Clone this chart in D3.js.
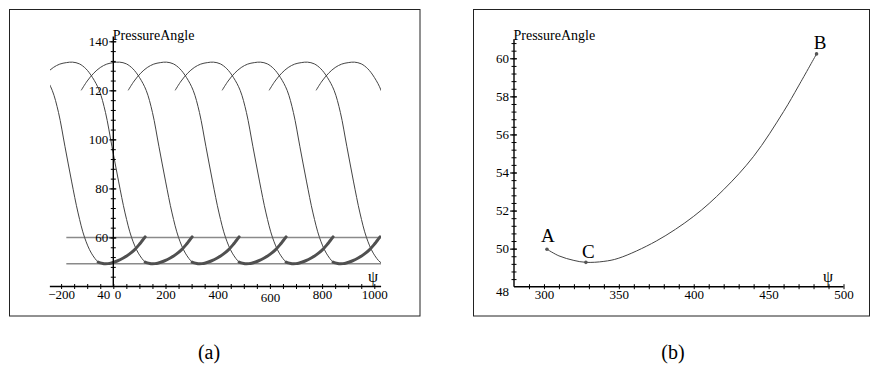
<!DOCTYPE html>
<html><head><meta charset="utf-8">
<script src="https://cdn.jsdelivr.net/npm/d3@7"></script>
<style>
body{margin:0;background:#fff}
svg{display:block}
svg text{font-family:"Liberation Serif","Times New Roman",serif !important;fill:#000}
</style>
</head><body>
<svg id="chart" width="875" height="366"></svg>
<script>
// One cycle of the pressure-angle curve, ψ measured within the cycle (up to point A)
const cyclePsi   = [-123, -100, -75, -50, -25, 0, 24, 50, 75, 100, 126, 150, 175, 200, 225, 250, 276];
const cycleAngle = [120, 123.8, 127, 129.3, 130.7, 131.3, 131.5, 130.8, 128.8, 125.3, 120, 111, 97, 83, 70, 60, 53.6];
// Working stretch A → C → B
const workPsi   = [302, 310, 320, 328, 340, 350, 375, 400, 420, 440, 460, 470, 482];
const workAngle = [49.97, 49.62, 49.38, 49.28, 49.33, 49.5, 50.4, 51.7, 53.1, 54.85, 57.2, 58.55, 60.23];
// Repetitions of the cycle along ψ
const cycleShifts = [-360, -180, 0, 180, 360, 540, 720, 900];
const workShifts  = [-360, -180, 0, 180, 360, 540];
// Allowed pressure-angle band
const limitAngles = [60, 49.28];
const limitSpan = [-180, 1026];
// Marked points
const pointNames  = ["A", "C", "B"];
const pointPsi    = [302, 328, 482];
const pointAngle  = [49.97, 49.28, 60.23];
// Tick labels
const xTicksA = [-200, 0, 200, 400, 600, 800, 1000];
const yTicksA = [60, 80, 100, 120, 140];
const xTicksB = [300, 350, 400, 450, 500];
const yTicksB = [50, 52, 54, 56, 58, 60];

const SERIF = '"Liberation Serif","Times New Roman",serif';
const svg = d3.select("#chart");

// panel frames
svg.append("rect").attr("x", 9.5).attr("y", 9.5).attr("width", 410.5).attr("height", 306.5)
  .attr("fill", "none").attr("stroke", "#222").attr("stroke-width", 1);
svg.append("rect").attr("x", 473.5).attr("y", 9.5).attr("width", 396).attr("height", 306.5)
  .attr("fill", "none").attr("stroke", "#222").attr("stroke-width", 1);

function serifLabels(g) {
  g.attr("font-family", SERIF);
  g.selectAll("text").attr("font-size", 13).style("font-family", SERIF);
}

// ---------- panel (a) ----------
const xA = d3.scaleLinear().domain([0, 1000]).range([113.3, 374.3]);
const yA = d3.scaleLinear().domain([40, 140]).range([286.5, 41.3]);
const psiMinA = -243, psiMaxA = 1026;

svg.append("clipPath").attr("id", "clipA").append("rect")
  .attr("x", xA(psiMinA)).attr("y", 0)
  .attr("width", xA(psiMaxA) - xA(psiMinA)).attr("height", 366);

const lineA = d3.line().x(d => xA(d[0])).y(d => yA(d[1])).curve(d3.curveCatmullRom.alpha(0.5));

const cycle = cyclePsi.map((p, i) => [p, cycleAngle[i]])
  .concat(workPsi.map((p, i) => [p, workAngle[i]]));
const work = workPsi.map((p, i) => [p, workAngle[i]]);

const gA = svg.append("g").attr("clip-path", "url(#clipA)");

// limit lines
gA.selectAll("line.limit").data(limitAngles).join("line")
  .attr("x1", xA(limitSpan[0])).attr("x2", xA(limitSpan[1]))
  .attr("y1", d => yA(d)).attr("y2", d => yA(d))
  .attr("stroke", "#8a8a8a").attr("stroke-width", 1.6);

// thin cycles
gA.selectAll("path.cycle").data(cycleShifts).join("path")
  .attr("d", s => lineA(cycle.map(d => [d[0] + s, d[1]])))
  .attr("fill", "none").attr("stroke", "#444").attr("stroke-width", 1);

// heavy working stretches
gA.selectAll("path.work").data(workShifts).join("path")
  .attr("d", s => lineA(work.map(d => [d[0] + s, d[1]])))
  .attr("fill", "none").attr("stroke", "#505050").attr("stroke-width", 3).attr("stroke-linecap", "round");

// axes of (a)
const axA = svg.append("g");
axA.append("line").attr("x1", xA(psiMinA)).attr("x2", xA(psiMaxA))
  .attr("y1", yA(40)).attr("y2", yA(40)).attr("stroke", "#000").attr("stroke-width", 1.4);
axA.append("line").attr("x1", xA(0)).attr("x2", xA(0))
  .attr("y1", yA(40)).attr("y2", yA(142)).attr("stroke", "#000").attr("stroke-width", 1.4);

// minor ticks crossing the axes
axA.append("g").attr("transform", `translate(0,${yA(40) + 2.5})`)
  .call(d3.axisTop(xA).tickValues(d3.range(-200, 1001, 50)).tickSize(5).tickFormat(""))
  .call(g => g.select(".domain").remove());
axA.append("g").attr("transform", `translate(${xA(0) + 2.5},0)`)
  .call(d3.axisLeft(yA).tickValues(d3.range(44, 141, 4)).tickSize(5).tickFormat(""))
  .call(g => g.select(".domain").remove());

// labelled ticks
axA.append("g").attr("transform", `translate(0,${yA(40)})`)
  .call(d3.axisBottom(xA).tickValues(xTicksA).tickSize(0).tickPadding(3).tickFormat(d3.format("d")))
  .call(g => g.select(".domain").remove())
  .call(serifLabels)
  .call(g => g.selectAll(".tick").filter(d => d === 0).select("text").attr("text-anchor", "start").attr("dx", 1))
  .call(g => g.selectAll(".tick").filter(d => d === 600).select("text").attr("dy", "0.93em"));
axA.append("g").attr("transform", `translate(${xA(0) + 3},0)`)
  .call(d3.axisLeft(yA).tickValues(yTicksA).tickSize(7).tickPadding(1).tickFormat(d3.format("d")))
  .call(g => g.select(".domain").remove())
  .call(serifLabels);
axA.append("text").attr("x", xA(0) - 3).attr("y", yA(40) + 12).attr("text-anchor", "end")
  .attr("font-size", 13).text("40");
axA.append("text").attr("x", xA(0) - 0.5).attr("y", 40).attr("font-size", 14).text("PressureAngle");
axA.append("text").attr("x", 373).attr("y", 282).attr("text-anchor", "middle").attr("font-size", 16).text("ψ");

// ---------- panel (b) ----------
const xB = d3.scaleLinear().domain([280, 500]).range([514, 843.5]);
const yB = d3.scaleLinear().domain([48, 60]).range([286.7, 58.3]);

const lineB = d3.line().x(d => xB(d[0])).y(d => yB(d[1])).curve(d3.curveCatmullRom.alpha(0.5));
svg.append("path").attr("d", lineB(work))
  .attr("fill", "none").attr("stroke", "#444").attr("stroke-width", 1);

const axB = svg.append("g");
axB.append("line").attr("x1", xB(280)).attr("x2", xB(500))
  .attr("y1", yB(48)).attr("y2", yB(48)).attr("stroke", "#000").attr("stroke-width", 1.4);
axB.append("line").attr("x1", xB(280)).attr("x2", xB(280))
  .attr("y1", yB(48)).attr("y2", yB(61)).attr("stroke", "#000").attr("stroke-width", 1.4);

axB.append("g").attr("transform", `translate(0,${yB(48) + 2.5})`)
  .call(d3.axisTop(xB).tickValues(d3.range(290, 501, 10)).tickSize(5).tickFormat(""))
  .call(g => g.select(".domain").remove());
axB.append("g").attr("transform", `translate(${xB(280) + 2.5},0)`)
  .call(d3.axisLeft(yB).tickValues(d3.range(48.4, 61.01, 0.4)).tickSize(5).tickFormat(""))
  .call(g => g.select(".domain").remove());

axB.append("g").attr("transform", `translate(0,${yB(48)})`)
  .call(d3.axisBottom(xB).tickValues(xTicksB).tickSize(0).tickPadding(3).tickFormat(d3.format("d")))
  .call(g => g.select(".domain").remove())
  .call(serifLabels);
axB.append("g").attr("transform", `translate(${xB(280) + 3},0)`)
  .call(d3.axisLeft(yB).tickValues(yTicksB).tickSize(7).tickPadding(1).tickFormat(d3.format("d")))
  .call(g => g.select(".domain").remove())
  .call(serifLabels);
axB.append("text").attr("x", xB(280) - 5).attr("y", yB(48) + 9).attr("text-anchor", "end")
  .attr("font-size", 13).text("48");
axB.append("text").attr("x", xB(280) - 0.5).attr("y", 40).attr("font-size", 14).text("PressureAngle");
axB.append("text").attr("x", 828).attr("y", 282).attr("text-anchor", "middle").attr("font-size", 16).text("ψ");

// marked points and their letters
const labelShift = { A: [1, -7.5], C: [2.4, -4], B: [3.5, -4.6] };
const pts = pointNames.map((n, i) => ({ n, psi: pointPsi[i], a: pointAngle[i] }));
svg.selectAll("circle.pt").data(pts).join("circle")
  .attr("cx", d => xB(d.psi)).attr("cy", d => yB(d.a)).attr("r", 1.8).attr("fill", "#555");
svg.selectAll("text.pt").data(pts).join("text")
  .attr("x", d => xB(d.psi) + labelShift[d.n][0]).attr("y", d => yB(d.a) + labelShift[d.n][1])
  .attr("text-anchor", "middle").attr("font-size", 19).text(d => d.n);

// captions
svg.append("text").attr("x", 209).attr("y", 359).attr("text-anchor", "middle").attr("font-size", 20).text("(a)");
svg.append("text").attr("x", 673).attr("y", 359).attr("text-anchor", "middle").attr("font-size", 20).text("(b)");
</script>
</body></html>
